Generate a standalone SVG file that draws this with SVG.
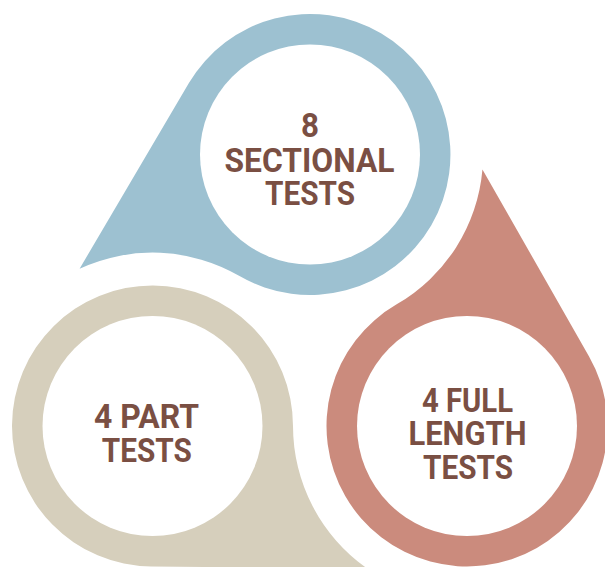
<svg xmlns="http://www.w3.org/2000/svg" width="605" height="567" viewBox="0 0 605 567">
<style>
.lbl{font-family:Roboto,"Liberation Sans",sans-serif;font-weight:700;font-size:34px;fill:#7A4F43;text-anchor:middle}
.hole{fill:#FFFFFF}
</style>
<rect width="605" height="567" fill="#FFFFFF"/>
<g id="node-sectional">
<path d="M79.6,268.7 L188.9,83.1 A140.5,140.5 0 1 1 239.5,276 A173.4,173.4 0 0 0 79.6,268.7 Z" fill="#9DC1D1"/>
<circle class="hole" cx="310" cy="154.5" r="110"/>
<text class="lbl" x="310" y="136.7" textLength="18" lengthAdjust="spacingAndGlyphs">8</text>
<text class="lbl" x="309.5" y="171.7" textLength="170" lengthAdjust="spacingAndGlyphs">SECTIONAL</text>
<text class="lbl" x="310" y="205" textLength="90" lengthAdjust="spacingAndGlyphs">TESTS</text>
</g>
<g id="node-full">
<path d="M482.45,169.47 L589.05,356.4 A140.5,140.5 0 1 1 396.66,304.36 A173.1,173.1 0 0 0 482.45,169.47 Z" fill="#CB8B7D"/>
<circle class="hole" cx="467" cy="426" r="110"/>
<text class="lbl" x="467.5" y="411.7" textLength="91" lengthAdjust="spacingAndGlyphs">4 FULL</text>
<text class="lbl" x="467.5" y="445" textLength="118" lengthAdjust="spacingAndGlyphs">LENGTH</text>
<text class="lbl" x="468" y="479.3" textLength="90" lengthAdjust="spacingAndGlyphs">TESTS</text>
</g>
<g id="node-part">
<path d="M367.2,568.5 L151.2,566.5 A140.5,140.5 0 1 1 293,426 A174,174 0 0 0 367.2,568.5 Z" fill="#D6CFBC"/>
<circle class="hole" cx="152.5" cy="426" r="110"/>
<text class="lbl" x="146.5" y="428.3" textLength="105" lengthAdjust="spacingAndGlyphs">4 PART</text>
<text class="lbl" x="146.8" y="462.3" textLength="90" lengthAdjust="spacingAndGlyphs">TESTS</text>
</g>
<g id="connectors"></g>
</svg>
